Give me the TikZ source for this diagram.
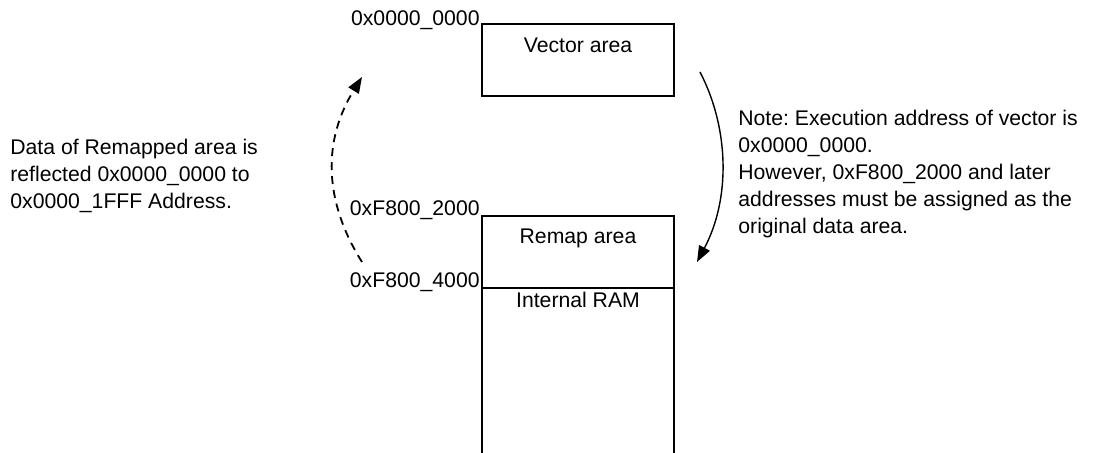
\documentclass[tikz,border=0pt]{standalone}
\usepackage{fontspec}
\setmainfont{Liberation Sans}
\usetikzlibrary{arrows.meta,positioning,calc}
\frenchspacing
\tikzset{
  mem/.style  ={draw=black,line width=.7pt,inner sep=0pt,outer sep=0pt},
  txt/.style  ={font=\fontsize{10.6}{13.5}\selectfont,inner sep=0pt},
  addr/.style ={font=\fontsize{10.6}{13.5}\selectfont,inner xsep=1pt,inner ysep=0pt,anchor=base east},
  note/.style ={font=\fontsize{10.6}{13.5}\selectfont,inner sep=0pt,align=left,anchor=north west},
  sa/.style   ={-{Triangle[length=8pt,width=6pt]},line width=.7pt},
  da/.style   ={-{Triangle[length=8pt,width=6pt]},line width=.9pt,dash pattern=on 4pt off 3pt},
}
\begin{document}
\begin{tikzpicture}[x=0.5pt,y=-0.5pt]
  \useasboundingbox (0,0) rectangle (1094,453);

  % memory map
  \node[mem,minimum width=96pt,minimum height=36pt,anchor=north west] (vec) at (482,24) {};
  \node[txt,anchor=base] (vect) at ($(vec.north)+(0,29)$) {Vector area};
  \node[mem,minimum width=96pt,minimum height=36pt,anchor=north west] (remap) at (482,216) {};
  \node[txt,anchor=base] (remapt) at ($(remap.north)+(0,28)$) {Remap area};
  \coordinate (ramL) at (482,453);
  \coordinate (ramR) at (674,453);
  \draw[mem] (remap.south west) -- (ramL);
  \draw[mem] (remap.south east) -- (ramR);
  \node[txt,anchor=base] (ramt) at ($(remap.south)+(0,20)$) {Internal RAM};

  % addresses
  \node[addr] (a0) at ($(vec.north west)+(0,2)$) {0x0000\_0000};
  \node[addr] (a1) at (remap.north west) {0xF800\_2000};
  \node[addr] (a2) at (remap.south west) {0xF800\_4000};

  % remap arrows
  \coordinate (dsrc) at (362,262);
  \coordinate (ddst) at (362,77);
  \draw[da] (dsrc) .. controls (323,200) and (323,140) .. (ddst);
  \coordinate (ssrc) at (700,72);
  \coordinate (sdst) at (697,262);
  \draw[sa] (ssrc) .. controls (730,130) and (730,200) .. (sdst);

  % notes
  \node[note] (left) at (10,139)
        {Data of Remapped area is\\ reflected 0x0000\_0000 to\\ 0x0000\_1FFF Address.};
  \node[note] (right) at (738,110)
        {Note: Execution address of vector is\\ 0x0000\_0000.\\ However, 0xF800\_2000 and later\\
         addresses must be assigned as the\\ original data area.};
\end{tikzpicture}
\end{document}
